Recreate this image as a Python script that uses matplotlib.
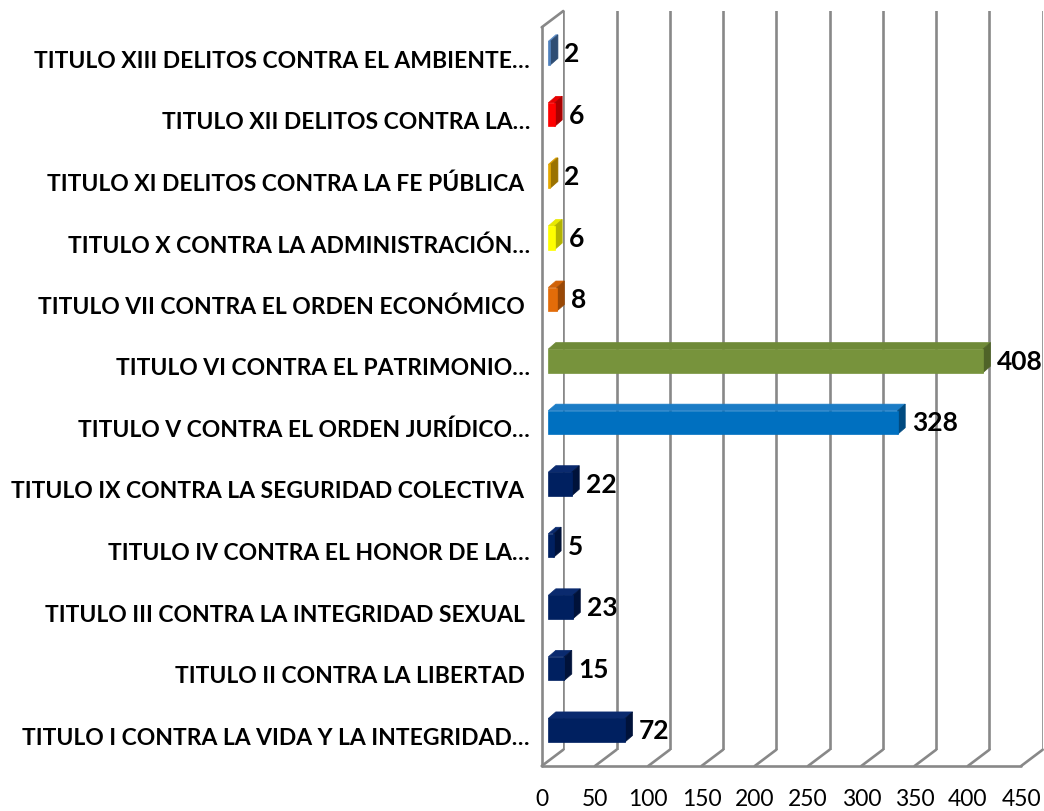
import matplotlib
matplotlib.use("Agg")
import matplotlib.pyplot as plt
from matplotlib.patches import Polygon
import numpy as np

# ---------------- data ----------------
categories = [
    "TITULO I CONTRA LA VIDA Y LA INTEGRIDAD…",
    "TITULO II CONTRA LA LIBERTAD ",
    "TITULO III CONTRA LA INTEGRIDAD SEXUAL ",
    "TITULO IV CONTRA EL HONOR DE LA…",
    "TITULO IX CONTRA LA SEGURIDAD COLECTIVA ",
    "TITULO V CONTRA EL ORDEN JURÍDICO…",
    "TITULO VI CONTRA EL PATRIMONIO…",
    "TITULO VII CONTRA EL ORDEN ECONÓMICO ",
    "TITULO X CONTRA LA ADMINISTRACIÓN…",
    "TITULO XI DELITOS CONTRA LA FE PÚBLICA ",
    "TITULO XII DELITOS CONTRA LA…",
    "TITULO XIII DELITOS CONTRA EL AMBIENTE…",
]
values = [72, 15, 23, 5, 22, 328, 408, 8, 6, 2, 6, 2]
front_colors = ["#002060", "#002060", "#002060", "#002060", "#002060",
                "#0070C0", "#77933C", "#E36C09", "#FFFF00", "#E5A800",
                "#FF0000", "#4F81BD"]
side_colors = ["#00123A", "#00123A", "#00123A", "#00123A", "#00123A",
               "#004A80", "#4F6328", "#994806", "#B3B300", "#9A7200",
               "#A80000", "#2E4D73"]
top_colors = ["#0A2A6E", "#0A2A6E", "#0A2A6E", "#0A2A6E", "#0A2A6E",
              "#1B7CC6", "#6F8A38", "#D06208", "#E8E800", "#D69C00",
              "#E60000", "#5A8AC4"]
xticks = [0, 50, 100, 150, 200, 250, 300, 350, 400, 450]

# ---------------- layout ----------------
W, H = 1044, 812
fig = plt.figure(figsize=(W / 100, H / 100), dpi=100)
fig.patch.set_facecolor("white")

# back wall (pixel coords of image, top-left origin)
bx0, bx1, by_top, by_bot = 563.3, 1042.7, 12.0, 750.7
# depth offset from back wall to front plane (pixels, +x right, +y down)
DX_FRONT, DY_FRONT = -21.6, 16.3
# offset of bar front face from back wall
DX_BAR, DY_BAR = -15.0, 11.3
# bar depth
DX_DEPTH, DY_DEPTH = 7.5, -6.5

ax = fig.add_axes([bx0 / W, 1 - by_bot / H, (bx1 - bx0) / W, (by_bot - by_top) / H])
ax.set_xlim(0, 450)
ax.set_ylim(-0.5, 11.5)
ax.set_facecolor("none")
for s in ax.spines.values():
    s.set_visible(False)
ax.set_xticks(xticks)
ax.set_yticks([])
ax.tick_params(axis="x", length=0, labelbottom=False)
grid_color = "#888888"
LW = 1.9
ax.grid(axis="x", color=grid_color, lw=LW)
ax.set_axisbelow(True)

# front plane axes (carries the tick labels)
fx0 = bx0 + DX_FRONT
fy_bot = by_bot + DY_FRONT
axf = fig.add_axes([fx0 / W, 1 - fy_bot / H, (bx1 - bx0) / W, (by_bot - by_top) / H])
axf.set_xlim(0, 450)
axf.set_ylim(-0.5, 11.5)
axf.patch.set_visible(False)
for s in axf.spines.values():
    s.set_visible(False)
axf.set_xticks(xticks)
axf.set_xticklabels([str(t) for t in xticks], fontsize=16.5, family="Lato")
axf.set_yticks(range(len(categories)))
axf.set_yticklabels(categories, fontsize=16.5, family="Lato", fontweight="bold")
axf.tick_params(axis="x", length=0, pad=16)
axf.tick_params(axis="y", length=0, pad=8.5)

# pixel -> data units on back axes
ux = 450 / (bx1 - bx0)
uy = 12 / (by_bot - by_top)


def off(x, y, dxp, dyp):
    return x + dxp * ux, y - dyp * uy


# frame lines: floor and left wall
ymin, ymax = -0.5, 11.5
fl = dict(color=grid_color, lw=LW, clip_on=False, solid_capstyle="round")
x0f, y0f = off(0, ymin, DX_FRONT, DY_FRONT)
x1f, _ = off(450, ymin, DX_FRONT, DY_FRONT)
ax.plot([x0f, x1f], [y0f, y0f], **fl)
for t in xticks:
    xf, yf = off(t, ymin, DX_FRONT, DY_FRONT)
    ax.plot([t, xf], [ymin, yf], **fl)
xt, yt = off(0, ymax, DX_FRONT, DY_FRONT)
ax.plot([x0f, xt], [y0f, yt], **fl)
ax.plot([0, xt], [ymax, yt], **fl)

# bars
h = 0.383
for i, (v, cf, cs, ct) in enumerate(zip(values, front_colors, side_colors, top_colors)):
    # front face corners
    fl_b = off(0, i - h / 2, DX_BAR, DY_BAR)
    fr_b = off(v, i - h / 2, DX_BAR, DY_BAR)
    fr_t = off(v, i + h / 2, DX_BAR, DY_BAR)
    fl_t = off(0, i + h / 2, DX_BAR, DY_BAR)
    # back face corners
    br_b = off(v, i - h / 2, DX_BAR + DX_DEPTH, DY_BAR + DY_DEPTH)
    br_t = off(v, i + h / 2, DX_BAR + DX_DEPTH, DY_BAR + DY_DEPTH)
    bl_t = off(0, i + h / 2, DX_BAR + DX_DEPTH, DY_BAR + DY_DEPTH)
    ax.add_patch(Polygon([fl_t, fr_t, br_t, bl_t], closed=True, facecolor=ct,
                         edgecolor=ct, lw=0.5, zorder=3, clip_on=False))
    ax.add_patch(Polygon([fr_b, br_b, br_t, fr_t], closed=True, facecolor=cs,
                         edgecolor=cs, lw=0.5, zorder=3, clip_on=False))
    ax.add_patch(Polygon([fl_b, fr_b, fr_t, fl_t], closed=True, facecolor=cf,
                         edgecolor=cf, lw=0.5, zorder=4, clip_on=False))
    lx, ly = off(v, i, DX_BAR + 14, DY_BAR)
    ax.text(lx, ly, str(v), ha="left", va="center", fontsize=19,
            family="Lato", fontweight="bold", color="black", zorder=5, clip_on=False)

fig.savefig("out.png", dpi=100)
